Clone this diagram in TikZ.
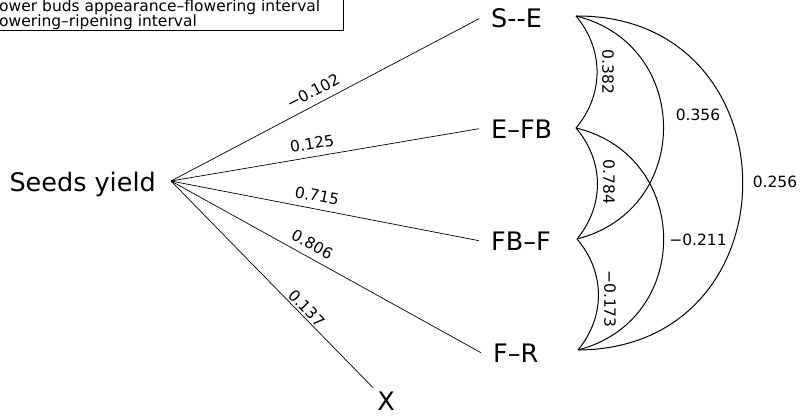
\documentclass[tikz,border=0pt]{standalone}
\usepackage{fontspec}
\setmainfont{DejaVu Sans}
\begin{document}
\begin{tikzpicture}[x=1pt, y=1pt,
  big/.style={font=\fontsize{25.5}{28}\selectfont, inner xsep=12pt, inner ysep=2pt},
  coef/.style={font=\fontsize{15.5}{17}\selectfont, inner sep=2pt},
  fanline/.style={line width=0.7pt},
  corrarc/.style={line width=1pt}]
	\useasboundingbox (0,0) rectangle (801,416);
	
	% ==================== legend (cut at the left edge) ====================
	\node[coef, anchor=base west, inner sep=0pt] (leg1) at (-1,404) {ower buds appearance--flowering interval};
	\node[coef, anchor=base west, inner sep=0pt] (leg2) at (-1,389) {owering--ripening interval};
	\draw[thin] (-1,386) -- (343,386) -- (343,417);
	
	% ==================== yield and the intervals ====================
	\node[big, anchor=base east, inner xsep=0pt] (yield) at (156,225) {Seeds yield};
	\coordinate (hub) at (171,235);
	
	\node[big, anchor=base west] (se)  at (479,388) {S-{}-E};
	\node[big, anchor=base west] (efb) at (479,278) {E--FB};
	\node[big, anchor=base west] (fbf) at (479,166) {FB--F};
	\node[big, anchor=base west] (fr)  at (481,54)  {F--R};
	\node[big, inner xsep=12pt, inner ysep=1pt] (x) at (386,15) {X};
	
	% ends of the correlation arcs
	\coordinate (se-c)  at (576,400);
	\coordinate (efb-c) at (576,288);
	\coordinate (fbf-c) at (577,177);
	\coordinate (fr-c)  at (578,66);
	
	% ==================== path coefficients ====================
	\draw[fanline] (hub) -- (se.west)  node[coef, pos=0.481, sloped, above=5pt] (p1) {−0.102};
	\draw[fanline] (hub) -- (efb.west) node[coef, pos=0.465, sloped, above=5pt] (p2) {0.125};
	\draw[fanline] (hub) -- (fbf.west) node[coef, pos=0.466, sloped, above=5pt] (p3) {0.715};
	\draw[fanline] (hub) -- (fr.west)  node[coef, pos=0.435, sloped, above=5pt] (p4) {0.806};
	\draw[fanline, shorten >=4pt] (hub) -- (x) node[coef, pos=0.635, sloped, above=0pt] (p5) {0.137};
	
	% ==================== correlations ====================
	\draw[corrarc] (se-c)  to[bend left=40] (efb-c);
	\draw[corrarc] (efb-c) to[bend left=40] (fbf-c);
	\draw[corrarc] (fbf-c) to[bend left=40] (fr-c);
	\draw[corrarc] (se-c)  to[bend left=76, looseness=1.37] (fbf-c);
	\draw[corrarc] (efb-c) to[bend left=76, looseness=1.37] (fr-c);
	\draw[corrarc] (se-c)  to[bend left=90, looseness=1.69] (fr-c);
	
	\node[coef, rotate=-90] (r1) at (608,344) {0.382};
	\node[coef, rotate=-90] (r2) at (609,234) {0.784};
	\node[coef, rotate=-90] (r3) at (610,117) {−0.173};
	\node[coef] (r4) at (698,301) {0.356};
	\node[coef] (r5) at (698,176) {−0.211};
	\node[coef] (r6) at (775,234) {0.256};
\end{tikzpicture}
\end{document}
